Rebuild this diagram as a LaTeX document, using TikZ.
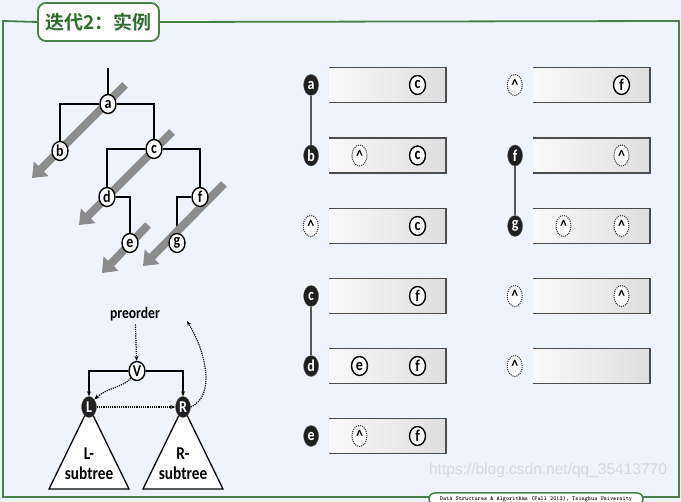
\documentclass[tikz,border=0pt]{standalone}
\usepackage{fontspec}
\setmainfont{Carlito}
\newfontfamily\nodefont{Carlito}[FakeStretch=0.85]
\newfontfamily\cjk{Noto Sans CJK SC Bold}
\newfontfamily\wmfont{Liberation Sans}
\usetikzlibrary{arrows.meta,shapes.geometric,positioning,calc,backgrounds}
\definecolor{frameGreen}{RGB}{72,128,72}
\definecolor{titleGreen}{RGB}{48,108,48}
\definecolor{paper}{RGB}{239,243,251}
\definecolor{markGrey}{RGB}{140,140,140}
\definecolor{wmark}{RGB}{212,216,226}
\begin{document}
\begin{tikzpicture}[x=1pt,y=-1pt,>={Stealth[length=5pt,width=4pt]},
  every node/.style={font=\nodefont\bfseries\fontsize{16.5}{17}\selectfont},
  tn/.style={ellipse,draw,line width=1.4pt,fill=white,inner sep=0pt,
    minimum width=16pt,minimum height=19pt},
  bn/.style={ellipse,draw=black!60,fill=black!88,text=white,inner sep=0pt,
    minimum width=15pt,minimum height=21pt},
  nn/.style={ellipse,draw=black!75,densely dotted,line width=1.1pt,fill=white,
    inner sep=0pt,minimum width=15pt,minimum height=21pt},
  slot/.style={rectangle,minimum width=117pt,minimum height=35pt,
    left color=black!2,right color=black!13},
  slotline/.style={draw=black!70,line width=1.5pt},
  link/.style={draw=black!65,line width=1.4pt},
  travel/.style={draw=markGrey,line width=8pt,
    -{Triangle[length=13pt,width=20pt]}},
  lnk/.style={line width=1.2pt},
  dlnk/.style={densely dotted,line width=1.2pt},
]
\useasboundingbox (0,0) rectangle (681,502);
% title
\node[draw=frameGreen,line width=1.8pt,rounded corners=8pt,fill=white,
  text=titleGreen,font=\cjk\fontsize{19}{19}\selectfont,
  minimum width=121pt,minimum height=38pt] (title) at (98.5,22) {迭代2：实例};
% footer
\node[draw=frameGreen,line width=1.5pt,rounded corners=6pt,fill=white,
  font=\ttfamily\bfseries\fontsize{6}{6}\selectfont,minimum width=214pt,
  minimum height=12pt] (foot) at (536,499)
  {Data Structures \& Algorithms (Fall 2013), Tsinghua University};
\node[text=wmark,font=\wmfont\fontsize{15.5}{16}\selectfont] (wm) at (548,470)
  {https://blog.csdn.net/qq\_35413770};
% tree
\node[tn] (a) at (108,104) {a};
\node[tn] (b) at (60,151) {b};
\node[tn] (c) at (154,149) {c};
\node[tn] (d) at (107,197) {d};
\node[tn] (f) at (200,197) {f};
\node[tn] (e) at (130,243) {e};
\node[tn] (g) at (177,243) {g};
\coordinate (root) at (108,68);
\coordinate (t1) at (125,85);  \coordinate (h1) at (32,178);
\coordinate (t2) at (172,132); \coordinate (h2) at (79,225);
\coordinate (t3) at (148,225); \coordinate (h3) at (102,273);
\coordinate (t4) at (224,184); \coordinate (h4) at (143,266);
% preorder sketch
\node[font=\nodefont\bfseries\fontsize{16}{17}\selectfont] (pre) at (135,314) {preorder};
\node[tn] (V) at (137,371) {V};
\node[bn] (L) at (89,407) {L};
\node[bn] (R) at (183,407) {R};
\node[align=center,font=\nodefont\bfseries\fontsize{18}{20}\selectfont] (Lt) at (89,464) {L-\\subtree};
\node[align=center,font=\nodefont\bfseries\fontsize{18}{20}\selectfont] (Rt) at (183,464) {R-\\subtree};
\coordinate (Lbl) at (49,489); \coordinate (Lbr) at (129,489);
\coordinate (Rbl) at (143,489); \coordinate (Rbr) at (223,489);
\coordinate (back) at (187,321);
\draw[lnk,->] (V) -| (L);
\draw[lnk,->] (V) -| (R);
\draw[dlnk,->] (pre) -- (V);
\draw[dlnk,->] (V.south west) .. controls (122,388) and (108,387) .. (L.north east);
\draw[dlnk,->] (L) -- (R);
\draw[dlnk,->] (R.east) .. controls (216,396) and (206,352) .. (back);
% first column
\node[slot] (sA1) at (387.5,85) {};
\node[slot] (sA2) at (387.5,155.5) {};
\node[slot] (sA3) at (387.5,226) {};
\node[slot] (sA4) at (387.5,296) {};
\node[slot] (sA5) at (387.5,366) {};
\node[slot] (sA6) at (387.5,436) {};
\node[bn,left=10pt of sA1] (hA1) {a};
\node[bn,left=10pt of sA2] (hA2) {b};
\node[nn,left=10pt of sA3] (hA3) {\^{}};
\node[bn,left=10pt of sA4] (hA4) {c};
\node[bn,left=10pt of sA5] (hA5) {d};
\node[bn,left=10pt of sA6] (hA6) {e};
\node[tn] (pA1) at ([xshift=30pt]sA1.center) {c};
\node[nn] (qA2) at ([xshift=-28pt]sA2.center) {\^{}};
\node[tn] (pA2) at ([xshift=30pt]sA2.center) {c};
\node[tn] (pA3) at ([xshift=30pt]sA3.center) {c};
\node[tn] (pA4) at ([xshift=30pt]sA4.center) {f};
\node[tn] (qA5) at ([xshift=-28pt]sA5.center) {e};
\node[tn] (pA5) at ([xshift=30pt]sA5.center) {f};
\node[nn] (qA6) at ([xshift=-28pt]sA6.center) {\^{}};
\node[tn] (pA6) at ([xshift=30pt]sA6.center) {f};
% second column
\node[slot] (sB1) at (591.5,85) {};
\node[slot] (sB2) at (591.5,155.5) {};
\node[slot] (sB3) at (591.5,226) {};
\node[slot] (sB4) at (591.5,296) {};
\node[slot] (sB5) at (591.5,366) {};
\node[nn,left=10pt of sB1] (hB1) {\^{}};
\node[bn,left=10pt of sB2] (hB2) {f};
\node[bn,left=10pt of sB3] (hB3) {g};
\node[nn,left=10pt of sB4] (hB4) {\^{}};
\node[nn,left=10pt of sB5] (hB5) {\^{}};
\node[tn] (pB1) at ([xshift=30pt]sB1.center) {f};
\node[nn] (pB2) at ([xshift=30pt]sB2.center) {\^{}};
\node[nn] (qB3) at ([xshift=-28pt]sB3.center) {\^{}};
\node[nn] (pB3) at ([xshift=30pt]sB3.center) {\^{}};
\node[nn] (pB4) at ([xshift=30pt]sB4.center) {\^{}};
\foreach \s in {sA1,sA2,sA3,sA4,sA5,sA6,sB1,sB2,sB3,sB4,sB5}
  \draw[slotline] (\s.north west) -| (\s.south east) -- (\s.south west);
\draw[link] (hA1) -- (hA2);
\draw[link] (hA4) -- (hA5);
\draw[link] (hB2) -- (hB3);
\begin{scope}[on background layer]
  \fill[paper] (0,0) rectangle (681,502);
  \draw[frameGreen,line width=1.8pt] (title.west) -- (3,21) -- (3,497)
    -- (679,497) -- (679,21) -- (title.east);
  \draw[lnk] (root) -- (a);
  \draw[lnk] (a) -| (b);
  \draw[lnk] (a) -| (c);
  \draw[lnk] (c) -| (d);
  \draw[lnk] (c) -| (f);
  \draw[lnk] (d) -| (e);
  \draw[lnk] (f) -| (g);
  \foreach \i in {1,...,4}
    \draw[travel] (t\i) -- (h\i);
  \draw[line width=1.3pt,fill=white] (L.center) -- (Lbl) -- (Lbr) -- cycle;
  \draw[line width=1.3pt,fill=white] (R.center) -- (Rbl) -- (Rbr) -- cycle;
\end{scope}
\end{tikzpicture}
\end{document}
